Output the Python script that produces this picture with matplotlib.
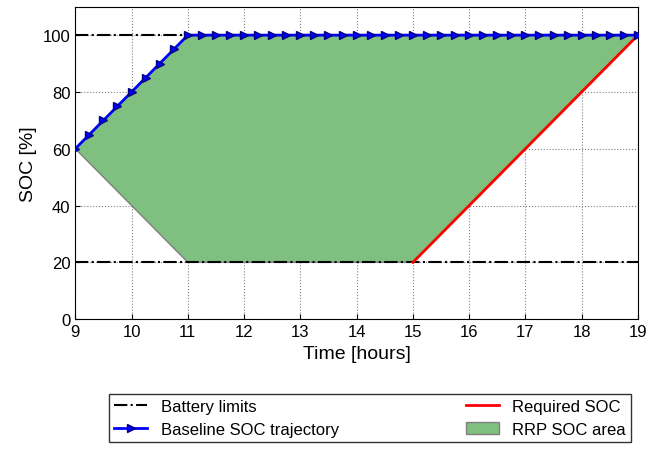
import numpy as np
import matplotlib.pyplot as plt

plt.rcParams['font.family'] = ['Liberation Sans', 'DejaVu Sans']

# data
limit_low = 20
limit_high = 100
baseline_t = np.arange(9, 19.001, 0.25)
baseline_soc = [min(60 + 20 * (t - 9), 100) for t in baseline_t]
required_t = [9, 15, 19]
required_soc = [20, 20, 100]
area_t = [9, 11, 19, 15, 11]
area_soc = [60, 100, 100, 20, 20]

fig = plt.figure(figsize=(6.49, 4.56), dpi=100)
ax = fig.add_axes([0.116, 0.298, 0.867, 0.685])

ax.fill(area_t, area_soc, facecolor='#7fbf7f', edgecolor='gray', lw=1, label='RRP SOC area', zorder=2)
ax.plot([9, 19], [limit_low, limit_low], 'k-.', lw=1.5, label='Battery limits', zorder=3)
ax.plot([9, 19], [limit_high, limit_high], 'k-.', lw=1.5, zorder=3)
ax.plot(required_t[1:], required_soc[1:], color='red', lw=2, label='Required SOC', zorder=4)
ax.plot(baseline_t, baseline_soc, color='blue', lw=2, marker='>', ms=6,
        markerfacecolor='blue', markeredgecolor='#000080', label='Baseline SOC trajectory', zorder=5)

ax.set_xlim(9, 19)
ax.set_ylim(0, 110)
ax.set_xticks(range(9, 20))
ax.set_yticks(range(0, 101, 20))
ax.grid(True, linestyle=':', color='gray', lw=0.8)
ax.tick_params(labelsize=12, direction='in')
ax.set_xlabel('Time [hours]', fontsize=14)
ax.set_ylabel('SOC [%]', fontsize=14)

h, l = ax.get_legend_handles_labels()
order = [l.index('Battery limits'), l.index('Baseline SOC trajectory'),
         l.index('Required SOC'), l.index('RRP SOC area')]
fig.legend([h[i] for i in order], [l[i] for i in order], ncol=2, fontsize=12,
           loc='lower left', bbox_to_anchor=(0.155, 0.01, 0.83, 0.13), mode='expand',
           fancybox=False, edgecolor='black', borderpad=0.3)

fig.savefig('out.png', dpi=100)
